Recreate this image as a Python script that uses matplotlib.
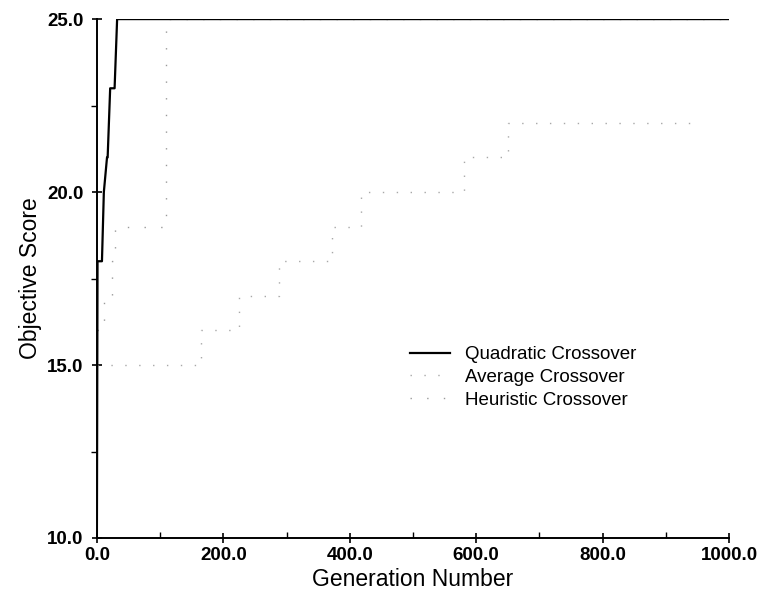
import matplotlib
matplotlib.use("Agg")
import matplotlib.pyplot as plt
from matplotlib.ticker import MultipleLocator, FormatStrFormatter

plt.rcParams["font.family"] = ["Liberation Sans", "DejaVu Sans"]

# Best objective score per generation for each crossover operator
quad_gen = [0, 1, 8, 11, 16, 17, 21, 28, 32, 1000]
quad_score = [10, 18, 18, 20, 21, 21, 23, 23, 25, 25]

avg_gen = [0, 165, 225, 288, 372, 418, 580, 650, 955]
avg_score = [15, 16, 17, 18, 19, 20, 21, 22, 22]

heur_gen = [0, 11, 24, 28, 110, 1000]
heur_score = [16, 17, 18, 19, 25, 25]

x_ticks = [0, 200, 400, 600, 800, 1000]
y_ticks = [10, 15, 20, 25]

fig = plt.figure(figsize=(7.57, 5.91), dpi=100)
ax = fig.add_axes([0.128, 0.0897, 0.835, 0.878])

ax.plot(avg_gen, avg_score, drawstyle="steps-post", color="#a8a8a8",
        linewidth=1.0, linestyle=(0, (1, 9)), label="Average Crossover", zorder=2)
ax.plot(heur_gen, heur_score, drawstyle="steps-post", color="#9a9a9a",
        linewidth=1.0, linestyle=(0, (1, 11)), label="Heuristic Crossover", zorder=2)
ax.plot(quad_gen, quad_score, color="black", linewidth=1.6,
        label="Quadratic Crossover", zorder=3)

ax.set_xlim(0, 1000)
ax.set_ylim(10, 25)
ax.set_xticks(x_ticks)
ax.set_yticks(y_ticks)
ax.xaxis.set_minor_locator(MultipleLocator(100))
ax.yaxis.set_minor_locator(MultipleLocator(2.5))
ax.xaxis.set_major_formatter(FormatStrFormatter("%.1f"))
ax.yaxis.set_major_formatter(FormatStrFormatter("%.1f"))

for side in ("top", "right"):
    ax.spines[side].set_visible(False)
for side in ("left", "bottom"):
    ax.spines[side].set_linewidth(1.4)

ax.tick_params(axis="both", which="major", direction="inout", length=7,
               width=1.2, labelsize=13.5)
ax.tick_params(axis="x", which="major", pad=3)
ax.tick_params(axis="y", which="major", pad=6)
ax.tick_params(axis="x", which="minor", direction="in", length=4, width=1.0)
ax.tick_params(axis="y", which="minor", direction="out", length=4, width=1.0)
for lbl in ax.get_xticklabels() + ax.get_yticklabels():
    lbl.set_fontweight("bold")

ax.set_xlabel("Generation Number", fontsize=16.5, labelpad=3)
ax.set_ylabel("Objective Score", fontsize=16.5, labelpad=4)

handles, labels = ax.get_legend_handles_labels()
order = [2, 0, 1]
ax.legend([handles[i] for i in order], [labels[i] for i in order],
          loc="upper left", bbox_to_anchor=(0.475, 0.395), frameon=False,
          fontsize=13.5, handlelength=2.1, handletextpad=0.8, labelspacing=0.3,
          borderpad=0.2)

fig.savefig("out.png", dpi=100)
